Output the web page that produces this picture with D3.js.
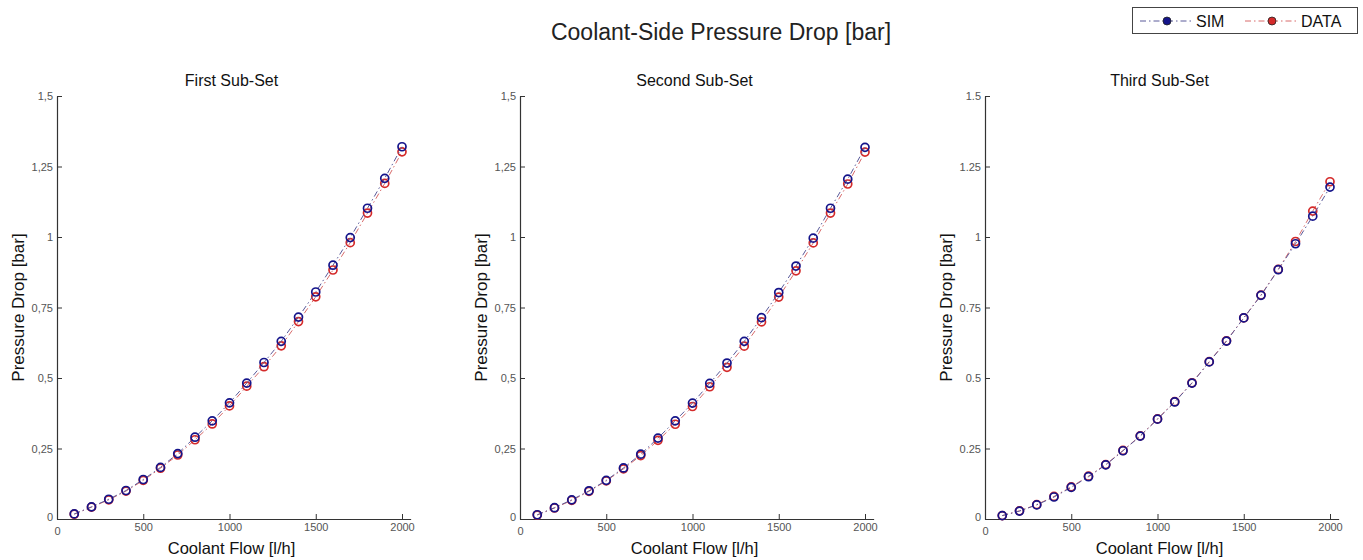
<!DOCTYPE html>
<html>
<head>
<meta charset="utf-8">
<script src="https://cdn.jsdelivr.net/npm/d3@7"></script>
<style>
  body { margin: 0; background: #fff; }
  svg { font-family: "Liberation Sans", Arial, sans-serif; }
</style>
</head>
<body>
<svg id="chart" width="1363" height="560"></svg>
<script>
/* data */
const flow = [100, 200, 300, 400, 500, 600, 700, 800, 900, 1000,
  1100, 1200, 1300, 1400, 1500, 1600, 1700, 1800, 1900, 2000];

const sim1 = [0.018, 0.043, 0.070, 0.101, 0.140, 0.183, 0.232, 0.290, 0.348, 0.412,
  0.482, 0.555, 0.630, 0.716, 0.805, 0.900, 0.998, 1.102, 1.208, 1.320];
const data1 = [0.017, 0.042, 0.068, 0.099, 0.137, 0.180, 0.227, 0.281, 0.337, 0.401,
  0.471, 0.540, 0.614, 0.700, 0.788, 0.883, 0.980, 1.085, 1.190, 1.302];

const sim2 = [0.015, 0.040, 0.068, 0.100, 0.137, 0.181, 0.230, 0.287, 0.348, 0.411,
  0.481, 0.553, 0.630, 0.714, 0.803, 0.897, 0.996, 1.102, 1.205, 1.318];
const data2 = [0.014, 0.039, 0.066, 0.098, 0.135, 0.178, 0.225, 0.279, 0.336, 0.399,
  0.469, 0.538, 0.613, 0.699, 0.787, 0.880, 0.979, 1.085, 1.188, 1.301];

const sim3 = [0.012, 0.028, 0.050, 0.078, 0.112, 0.150, 0.192, 0.242, 0.294, 0.354,
  0.415, 0.482, 0.557, 0.631, 0.713, 0.793, 0.884, 0.976, 1.074, 1.177];
const data3 = [0.012, 0.029, 0.051, 0.080, 0.114, 0.152, 0.193, 0.243, 0.295, 0.355,
  0.416, 0.483, 0.558, 0.632, 0.713, 0.794, 0.885, 0.984, 1.092, 1.196];

const subTitles = ['First Sub-Set', 'Second Sub-Set', 'Third Sub-Set'];
const decimalMarks = [',', ',', '.'];
const xTicks = [0, 500, 1000, 1500, 2000];
const yTicks = [0, 0.25, 0.5, 0.75, 1, 1.25, 1.5];
const seriesNames = ['SIM', 'DATA'];

const simColor = '#14148a';
const simLine = '#5a5a9a';
const dataColor = '#d42a2a';
const dataLine = '#d86a6a';

const svg = d3.select('#chart');

/* main title */
svg.append('text')
  .attr('x', 721).attr('y', 40)
  .attr('text-anchor', 'middle')
  .attr('font-size', 23)
  .attr('fill', '#222')
  .text('Coolant-Side Pressure Drop [bar]');

const panels = [
  { left: 57, sim: sim1, data: data1 },
  { left: 520, sim: sim2, data: data2 },
  { left: 985, sim: sim3, data: data3 },
];

const plotTop = 96;
const plotBottom = 519;
const pxPerFlow = 345 / 2000;

panels.forEach((p, i) => {
  const x = d3.scaleLinear().domain([0, 2050]).range([p.left, p.left + 2050 * pxPerFlow]);
  const y = d3.scaleLinear().domain([0, 1.5]).range([plotBottom, plotTop]);
  const g = svg.append('g');

  const fmt = (v) => String(v).replace('.', decimalMarks[i]);

  /* axes: MATLAB-like inward ticks, no box */
  const xAxis = d3.axisBottom(x).tickValues(xTicks).tickSizeInner(-5).tickSizeOuter(0)
    .tickPadding(4).tickFormat((v) => String(v));
  const yAxis = d3.axisLeft(y).tickValues(yTicks).tickSizeInner(-5).tickSizeOuter(0)
    .tickPadding(4).tickFormat(fmt);

  const gx = g.append('g').attr('transform', `translate(0,${plotBottom})`).call(xAxis);
  const gy = g.append('g').attr('transform', `translate(${p.left},0)`).call(yAxis);

  [gx, gy].forEach((ax) => {
    ax.select('.domain').attr('stroke', '#333').attr('stroke-width', 1.2);
    ax.selectAll('.tick line').attr('stroke', '#333');
    ax.selectAll('.tick text').attr('fill', '#555').attr('font-size', 11)
      .attr('font-family', '"Liberation Sans", Arial, sans-serif');
  });
  // zero labels sit a little apart, like in the original
  gx.selectAll('.tick text').filter((d) => d === 0).attr('dy', '1.05em');
  gy.selectAll('.tick text').filter((d) => d === 0).attr('dy', '0.1em');

  /* titles */
  const mid = x(1000) + 2;
  g.append('text').attr('x', mid).attr('y', 86)
    .attr('text-anchor', 'middle').attr('font-size', 16).attr('fill', '#111')
    .text(subTitles[i]);
  g.append('text').attr('x', mid).attr('y', 554)
    .attr('text-anchor', 'middle').attr('font-size', 16.5).attr('fill', '#111')
    .text('Coolant Flow [l/h]');
  g.append('text')
    .attr('transform', `translate(${p.left - 33},${(plotTop + plotBottom) / 2}) rotate(-90)`)
    .attr('text-anchor', 'middle').attr('font-size', 17).attr('fill', '#111')
    .text('Pressure Drop [bar]');

  /* series: DATA first, SIM on top */
  const line = d3.line().x((d) => x(d[0])).y((d) => y(d[1]));
  const drawSeries = (vals, lineColor, markColor) => {
    const pts = flow.map((f, k) => [f, vals[k]]);
    g.append('path').datum(pts)
      .attr('d', line)
      .attr('fill', 'none')
      .attr('stroke', lineColor)
      .attr('stroke-width', 1)
      .attr('stroke-dasharray', '6,3,1.5,3');
    g.selectAll(null).data(pts).enter().append('circle')
      .attr('cx', (d) => x(d[0]))
      .attr('cy', (d) => y(d[1]))
      .attr('r', 4)
      .attr('fill', 'none')
      .attr('stroke', markColor)
      .attr('stroke-width', 1.7);
  };
  drawSeries(p.data, dataLine, dataColor);
  drawSeries(p.sim, simLine, simColor);
});

/* legend */
const leg = svg.append('g');
leg.append('rect')
  .attr('x', 1132.5).attr('y', 7.5).attr('width', 225).attr('height', 26)
  .attr('fill', '#fff').attr('stroke', '#444').attr('stroke-width', 1);
const legItems = [
  { name: seriesNames[0], x0: 1140, line: simLine, mark: simColor },
  { name: seriesNames[1], x0: 1245, line: dataLine, mark: dataColor },
];
legItems.forEach((it) => {
  leg.append('line')
    .attr('x1', it.x0).attr('x2', it.x0 + 52).attr('y1', 21).attr('y2', 21)
    .attr('stroke', it.line).attr('stroke-width', 1)
    .attr('stroke-dasharray', '6,3,1.5,3');
  leg.append('circle')
    .attr('cx', it.x0 + 27).attr('cy', 21).attr('r', 4)
    .attr('fill', it.mark).attr('stroke', '#222').attr('stroke-width', 0.8);
  leg.append('text')
    .attr('x', it.x0 + 56).attr('y', 27)
    .attr('font-size', 16).attr('fill', '#111')
    .text(it.name);
});
</script>
</body>
</html>
